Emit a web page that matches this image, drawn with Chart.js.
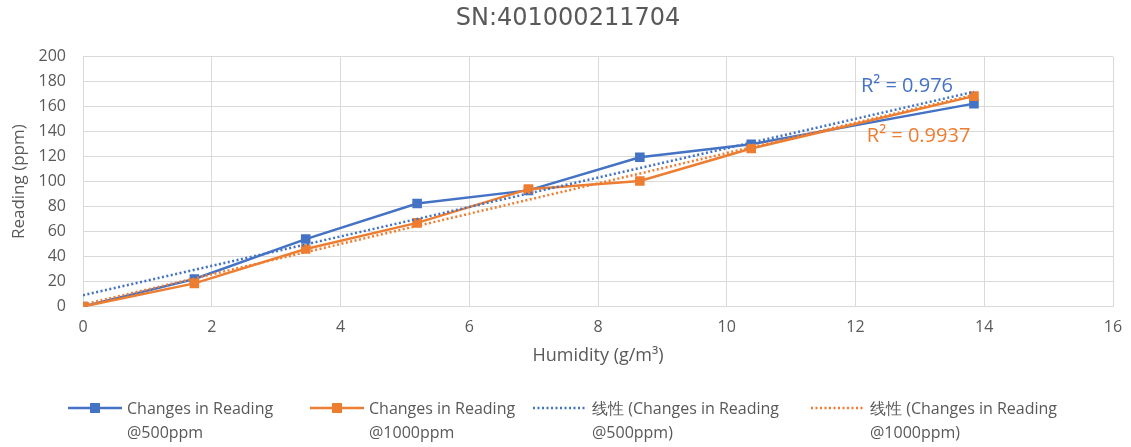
<!DOCTYPE html>
<html>
<head>
<meta charset="utf-8">
<script src="https://cdn.jsdelivr.net/npm/chart.js@4.4.1/dist/chart.umd.min.js"></script>
<style>
  body { margin: 0; background: #fff; }
  #wrap { position: relative; width: 1131px; height: 447px; }
  #chart { position: absolute; left: 0; top: 0; }
  #legend { position: absolute; left: 0; top: 0; width: 1131px; height: 447px; pointer-events: none;
    font-family: "Open Sans", sans-serif; font-size: 16px; color: #595959; }
  .item { position: absolute; top: 396px; }
  .item canvas { position: absolute; left: 0; top: 6px; }
  .item span { position: absolute; left: 59px; top: 0; white-space: pre; line-height: 24px; }
</style>
</head>
<body>
<div id="wrap">
  <canvas id="chart" width="1131" height="447"></canvas>
  <div id="legend"></div>
</div>
<script>
// 数据
const humidity = [0, 1.73, 3.46, 5.19, 6.92, 8.65, 10.38, 13.84];
const reading500 = [0, 22, 54, 82.5, 93, 119.5, 130, 162.5];
const reading1000 = [0, 18.5, 46, 67, 94, 100.5, 126.5, 168.5];
// 趋势线两端
const trendX = [0, 13.84];
const trend500 = [9, 172];
const trend1000 = [1.5, 169.5];
const r2Texts = ["R² = 0.976", "R² = 0.9937"];
const seriesNames = [
  "Changes in Reading\n@500ppm",
  "Changes in Reading\n@1000ppm",
  "线性 (Changes in Reading\n@500ppm)",
  "线性 (Changes in Reading\n@1000ppm)",
];

const BLUE = "#4472C4";
const ORANGE = "#ED7D31";
const GRAY = "#595959";
const GRID = "#D9D9D9";
const FONT = "'Open Sans', sans-serif";

const toPoints = (xs, ys) => xs.map((x, i) => ({ x, y: ys[i] }));

const datasets = [
  {
    label: seriesNames[0], data: toPoints(humidity, reading500),
    borderColor: BLUE, backgroundColor: BLUE, borderWidth: 2.5,
    pointStyle: "rect", pointRadius: 5, showLine: true, order: 3,
  },
  {
    label: seriesNames[1], data: toPoints(humidity, reading1000),
    borderColor: ORANGE, backgroundColor: ORANGE, borderWidth: 2.5,
    pointStyle: "rect", pointRadius: 5, showLine: true, order: 2,
  },
  {
    label: seriesNames[2], data: toPoints(trendX, trend500),
    borderColor: BLUE, backgroundColor: BLUE, borderWidth: 2.5, borderDash: [2, 2.5],
    pointRadius: 0, showLine: true, order: 0,
  },
  {
    label: seriesNames[3], data: toPoints(trendX, trend1000),
    borderColor: ORANGE, backgroundColor: ORANGE, borderWidth: 2.5, borderDash: [2, 2.5],
    pointRadius: 0, showLine: true, order: 1,
  },
];

/**
 * R² 标注
 */
const r2Plugin = {
  id: "r2",
  afterDatasetsDraw(chart, args, opts) {
    const { ctx, scales } = chart;
    ctx.save();
    ctx.font = "20px " + FONT;
    ctx.textAlign = "center";
    ctx.textBaseline = "middle";
    opts.items.forEach((it) => {
      ctx.fillStyle = it.color;
      ctx.fillText(it.text, scales.x.getPixelForValue(it.at[0]), scales.y.getPixelForValue(it.at[1]));
    });
    ctx.restore();
  },
};

const chart = new Chart(document.getElementById("chart"), {
  type: "scatter",
  data: { datasets },
  plugins: [r2Plugin],
  options: {
    responsive: false,
    animation: false,
    layout: { padding: { left: 5, right: 0, top: 0, bottom: 76 } },
    plugins: {
      legend: { display: false },
      tooltip: { enabled: false },
      title: {
        display: true,
        text: "SN:401000211704",
        color: GRAY,
        font: { family: "'DejaVu Sans', sans-serif", size: 24, weight: "normal" },
        padding: { top: 4, bottom: 24 },
      },
      r2: {
        items: [
          { text: r2Texts[0], color: BLUE, at: [12.8, 176] },
          { text: r2Texts[1], color: ORANGE, at: [12.98, 136] },
        ],
      },
    },
    scales: {
      x: {
        type: "linear", min: 0, max: 16,
        ticks: { stepSize: 2, color: GRAY, padding: 11, font: { family: FONT, size: 16 } },
        grid: { color: GRID, drawTicks: false },
        border: { color: GRID },
        title: {
          display: true, text: "Humidity (g/m³)", color: GRAY,
          font: { family: FONT, size: 18 }, padding: { top: 8, bottom: 4 },
        },
        afterFit(scale) {
          scale.height = 64.5;
          scale.paddingRight = 18;
        },
      },
      y: {
        min: 0, max: 200,
        ticks: { stepSize: 20, color: GRAY, padding: 17, font: { family: FONT, size: 16 } },
        grid: { color: GRID, drawTicks: false },
        border: { color: GRID },
        title: {
          display: true, text: "Reading (ppm)", color: GRAY,
          font: { family: FONT, size: 17 }, padding: { top: 4, bottom: 9 },
        },
        afterFit(scale) {
          scale.width = 78;
        },
      },
    },
  },
});

// 图例
const legendLeft = [68, 310, 533, 811];
const legend = document.getElementById("legend");
chart.data.datasets.forEach((ds, i) => {
  const item = document.createElement("div");
  item.className = "item";
  item.style.left = legendLeft[i] + "px";
  const sw = document.createElement("canvas");
  sw.width = 54;
  sw.height = 12;
  const c = sw.getContext("2d");
  c.strokeStyle = ds.borderColor;
  c.lineWidth = ds.borderWidth;
  c.setLineDash(ds.borderDash || []);
  c.beginPath();
  c.moveTo(0, 6);
  c.lineTo(54, 6);
  c.stroke();
  if (ds.pointRadius) {
    c.fillStyle = ds.backgroundColor;
    c.fillRect(22, 1, 10, 10);
  }
  const txt = document.createElement("span");
  txt.textContent = ds.label;
  item.appendChild(sw);
  item.appendChild(txt);
  legend.appendChild(item);
});
</script>
</body>
</html>
